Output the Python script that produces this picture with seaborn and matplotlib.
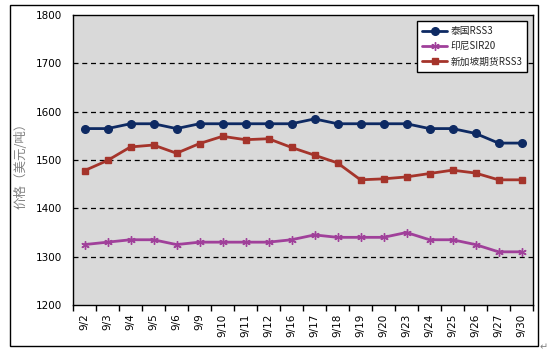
import matplotlib
matplotlib.use("Agg")
import matplotlib.pyplot as plt
import seaborn as sns
import pandas as pd
from matplotlib.patches import Rectangle
from matplotlib.ticker import FixedLocator

dates = ["9/2", "9/3", "9/4", "9/5", "9/6", "9/9", "9/10", "9/11", "9/12", "9/16",
         "9/17", "9/18", "9/19", "9/20", "9/23", "9/24", "9/25", "9/26", "9/27", "9/30"]
thai_rss3 = [1565, 1565, 1575, 1575, 1565, 1575, 1575, 1575, 1575, 1575,
             1585, 1575, 1575, 1575, 1575, 1565, 1565, 1555, 1535, 1535]
indo_sir20 = [1325, 1330, 1335, 1335, 1325, 1330, 1330, 1330, 1330, 1335,
              1345, 1340, 1340, 1340, 1350, 1335, 1335, 1325, 1310, 1310]
sgx_rss3 = [1478, 1499, 1527, 1531, 1514, 1534, 1549, 1542, 1544, 1526,
            1510, 1494, 1459, 1461, 1465, 1472, 1479, 1473, 1459, 1459]
series_names = ["泰国RSS3", "印尼SIR20", "新加坡期货RSS3"]
y_ticks = [1200, 1300, 1400, 1500, 1600, 1700, 1800]

sns.set_theme(style="white")
plt.rcParams["font.family"] = ["Noto Sans CJK SC", "DejaVu Sans"]

colors = ["#0E2A63", "#A0409A", "#A5342B"]
markers = ["o", (6, 2, 0), "s"]
msizes = [5.5, 6.0, 5.0]

fig = plt.figure(figsize=(5.47, 3.55), dpi=100)
ax = fig.add_axes([73 / 547, 1 - 305 / 355, 460 / 547, 290 / 355])
ax.set_facecolor("#D9D9D9")

for name, vals, c, m, ms in zip(series_names, [thai_rss3, indo_sir20, sgx_rss3],
                                colors, markers, msizes):
    df = pd.DataFrame({"date": dates, "price": vals})
    sns.lineplot(data=df, x="date", y="price", color=c, marker=m, sort=False,
                 linewidth=2.0, markersize=ms, markeredgecolor=c,
                 markeredgewidth=1.0, label=name, ax=ax, zorder=3)

ax.set_xlim(-0.5, len(dates) - 0.5)
ax.set_ylim(1200, 1800)
ax.set_yticks(y_ticks)
ax.set_yticklabels([str(t) for t in y_ticks], fontsize=7.5, family="DejaVu Sans")
ax.set_xticks(range(len(dates)))
ax.set_xticklabels(dates, rotation=90, fontsize=7.5, family="DejaVu Sans")
ax.xaxis.set_minor_locator(FixedLocator([i - 0.5 for i in range(len(dates) + 1)]))
ax.tick_params(axis="x", which="major", length=0, pad=6)
ax.tick_params(axis="x", which="minor", length=4, width=1, color="black", direction="out", bottom=True)
ax.tick_params(axis="y", which="major", length=0, pad=8)
for t in ax.get_xticklabels() + ax.get_yticklabels():
    t.set_color("black")

for y in [1300, 1400, 1500, 1600, 1700]:
    ax.axhline(y, color="black", linestyle=(0, (4, 3)), linewidth=0.9, zorder=1)

for s in ax.spines.values():
    s.set_visible(True)
    s.set_color("black")
    s.set_linewidth(1.0)

ax.set_xlabel("")
ax.set_ylabel("价格（美元/吨）", fontsize=9, color="#808080")
ax.yaxis.set_label_coords(-0.098, 0.49)

leg = ax.legend(loc="upper right", bbox_to_anchor=(0.987, 0.979), borderaxespad=0,
                fontsize=7, frameon=True, fancybox=False, handlelength=2.6,
                handletextpad=0.3, labelspacing=0.55, borderpad=0.5)
leg.get_frame().set_edgecolor("black")
leg.get_frame().set_linewidth(1.0)
leg.get_frame().set_facecolor("white")
leg.get_frame().set_alpha(1)

fig.patches.append(Rectangle((10 / 547, 1 - 346 / 355), 528 / 547, 341 / 355,
                             transform=fig.transFigure, fill=False,
                             edgecolor="black", linewidth=1.0))
fig.text(540 / 547, 1 - 350 / 355, "↵", fontsize=7, color="#808080", family="DejaVu Sans")

fig.savefig("out.png", dpi=100)
